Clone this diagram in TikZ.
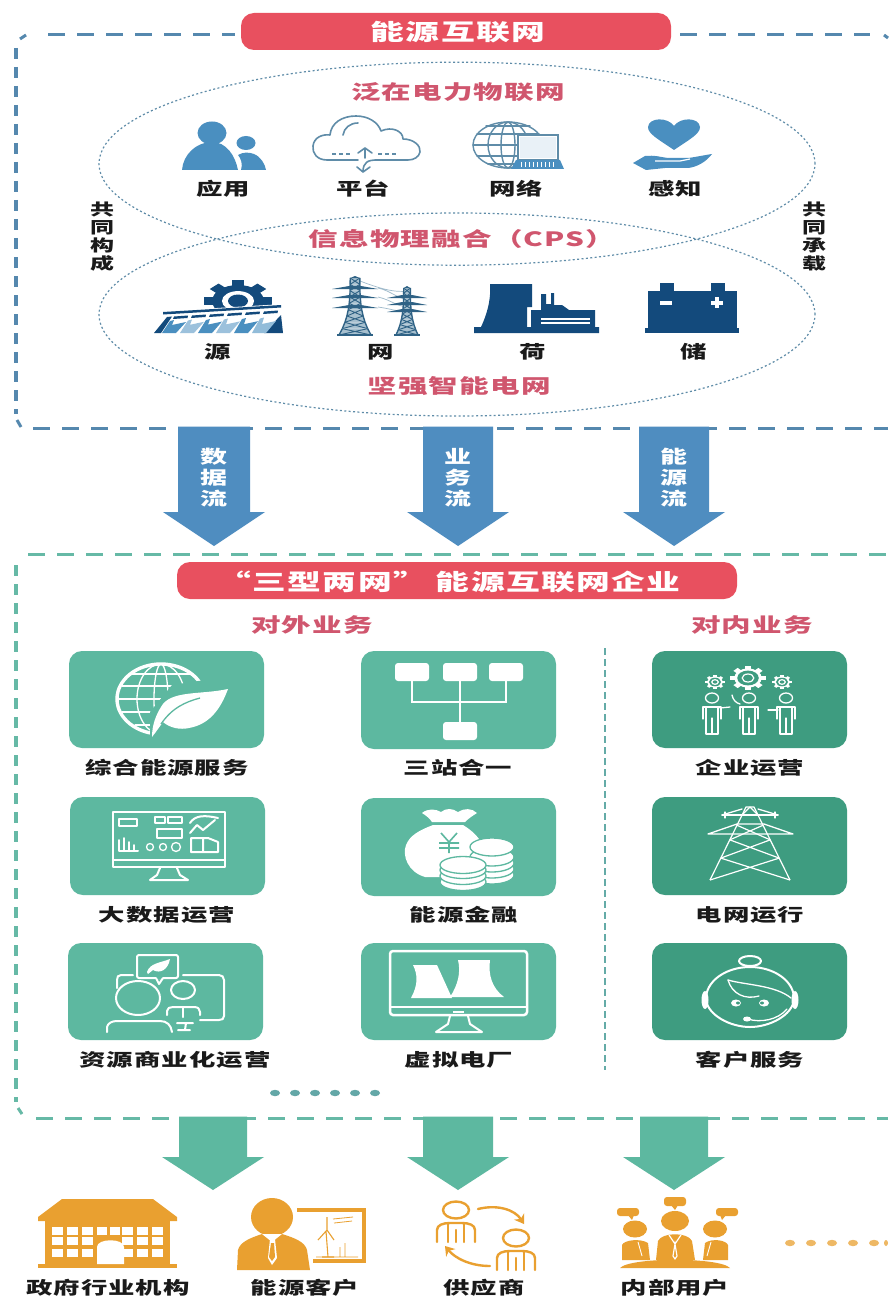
\documentclass[tikz,border=0pt]{standalone}
\usepackage{fontspec}
\usetikzlibrary{shapes.geometric,arrows.meta}
\newfontfamily\cjk[FakeStretch=1.5,LetterSpace=6]{Noto Sans CJK SC}
\definecolor{redpill}{HTML}{E8505F}
\definecolor{pinkt}{HTML}{D0566E}
\definecolor{frameb}{HTML}{5588AE}
\definecolor{frameg}{HTML}{66B9A6}
\definecolor{dotb}{HTML}{5F8CA8}
\definecolor{arrowb}{HTML}{4F8DC0}
\definecolor{iconb}{HTML}{4A8FC0}
\definecolor{navy}{HTML}{134A7C}
\definecolor{towerc}{HTML}{2F6285}
\definecolor{cardl}{HTML}{5DB8A0}
\definecolor{cardd}{HTML}{3E9C80}
\definecolor{orangei}{HTML}{E9A030}
\definecolor{txt}{HTML}{1A1A1A}
\tikzset{
 pill/.style={fill=redpill,rounded corners=13pt},
 titletxt/.style={text=white,inner sep=0,font=\cjk\bfseries\fontsize{22.5}{24}\selectfont},
 subtxt/.style={text=pinkt,inner sep=0,font=\cjk\bfseries\fontsize{19.7}{21}\selectfont},
 blacktxt/.style={text=txt,inner sep=0,font=\cjk\bfseries\fontsize{17.6}{19}\selectfont},
 vtxt/.style={text=txt,inner sep=0,align=center,font=\cjk\bfseries\fontsize{16}{18}\selectfont},
 arrtxt/.style={text=white,inner sep=0,align=center,font=\cjk\bfseries\fontsize{18}{21}\selectfont},
 dotell/.style={draw=dotb,line width=1.2pt,dash pattern=on 2pt off 2.4pt,ellipse,minimum width=716pt,minimum height=203pt,inner sep=0},
 hdashb/.style={draw=frameb,line width=3pt,dash pattern=on 17pt off 12pt},
 vdashb/.style={draw=frameb,line width=4pt,dash pattern=on 11pt off 8pt},
 hdashg/.style={draw=frameg,line width=3pt,dash pattern=on 17pt off 12pt},
 vdashg/.style={draw=frameg,line width=4pt,dash pattern=on 11pt off 8pt},
 card/.style={rounded corners=13pt},
 wl/.style={draw=white,line width=2pt,line cap=round,line join=round},
 wt/.style={draw=white,line width=1.3pt,line cap=round,line join=round},
 ol/.style={draw=orangei,line width=2.4pt,line cap=round,line join=round},
 bl/.style={draw=dotb,line width=1.4pt,line cap=round,line join=round},
}
\newcommand\bigarrow[7]{\fill[#7] (#1-#2,#4) -- (#1+#2,#4) -- (#1+#2,#5) -- (#1+#3,#5) -- (#1,#6) -- (#1-#3,#5) -- (#1-#2,#5) -- cycle;}
% solid gear with hole
\newcommand\geara[6]{\begin{scope}[shift={(#1,#2)},xscale=#4]
 \foreach \a in {0,45,...,315}{\fill[#5,rotate=\a] (-.24*#3,0) rectangle (.24*#3,-1.3*#3);}
 \fill[#5] (0,0) circle (#3);
 \fill[#6] (0,0) circle (.62*#3);
\end{scope}}
% outline gear: ring with teeth and an inner ring
\newcommand\gearb[5]{\begin{scope}[shift={(#1,#2)},xscale=#4]
 \foreach \a in {0,45,...,315}{\fill[white,rotate=\a] (-.22*#3,0) rectangle (.22*#3,-1.28*#3);}
 \fill[white] (0,0) circle (#3);
 \fill[#5] (0,0) circle (.78*#3);
 \draw[white,line width=1.2pt] (0,0) circle (.42*#3);
\end{scope}}
% straight lattice tower
\newcommand\tower[6]{\begin{scope}[line join=round]
 \draw[#5,line width=#6] (#1-#4,#3) -- (#1-.1*#4,#2) -- (#1+.1*#4,#2) -- (#1+#4,#3);
 \foreach \f/\g in {.25/.45,.45/.7,.7/1}{
  \pgfmathsetmacro\ya{#2+\f*(#3-#2)}\pgfmathsetmacro\yb{#2+\g*(#3-#2)}
  \pgfmathsetmacro\wa{.1*#4+.9*#4*\f}\pgfmathsetmacro\wb{.1*#4+.9*#4*\g}
  \draw[#5,line width=#6] (#1-\wa,\ya) -- (#1+\wb,\yb) (#1+\wa,\ya) -- (#1-\wb,\yb);
 }
 \end{scope}}
% flared lattice pylon
\newcommand\ptower[4]{\begin{scope}[line join=round]
 \foreach \i in {0,...,8}{
  \pgfmathsetmacro\f{\i/9}\pgfmathsetmacro\g{(\i+1)/9}
  \pgfmathsetmacro\ya{#2+\f*(#3-#2)}\pgfmathsetmacro\yb{#2+\g*(#3-#2)}
  \pgfmathsetmacro\wa{#4*(.3+.7*\f*\f*\f)}\pgfmathsetmacro\wb{#4*(.3+.7*\g*\g*\g)}
  \fill[dotb!55] (#1-\wa,\ya) -- (#1+\wa,\ya) -- (#1+\wb,\yb) -- (#1-\wb,\yb) -- cycle;
  \draw[towerc,line width=.9pt] (#1-\wa,\ya) -- (#1+\wb,\yb) (#1+\wa,\ya) -- (#1-\wb,\yb);
  \draw[towerc,line width=1.4pt] (#1-\wa,\ya) -- (#1-\wb,\yb) (#1+\wa,\ya) -- (#1+\wb,\yb);
 }
 \draw[towerc,line width=1.8pt] (#1-#4-2,#3) -- (#1+#4+2,#3);
 \fill[towerc] (#1-.3*#4,#2) -- (#1,#2-2) -- (#1+.3*#4,#2) -- cycle;
 \end{scope}}
\newcommand\parm[4]{\fill[towerc] (#1-#3,#2) -- (#1+#3,#2) -- (#1+#4,#2-3) -- (#1-#4,#2-3) -- cycle;}
% outline person on card
\newcommand\peep[2]{\draw[wt] (#1,#2) ellipse (6.5 and 5);
 \draw[wt] (#1-9,#2+21) -- (#1-9,#2+9) -- (#1+9,#2+9) -- (#1+9,#2+21);
 \draw[wt] (#1-6,#2+36) -- (#1-6,#2+9) (#1+6,#2+36) -- (#1+6,#2+9) (#1-6,#2+36) -- (#1+6,#2+36) (#1,#2+36) -- (#1,#2+20);}
% orange line person
\newcommand\oper[2]{\draw[ol] (#1,#2) ellipse (13 and 8.5);
 \draw[ol] (#1-19,#2+32) -- (#1-19,#2+20) .. controls (#1-19,#2+15) and (#1-13,#2+13) .. (#1-6,#2+13) -- (#1+6,#2+13) .. controls (#1+13,#2+13) and (#1+19,#2+15) .. (#1+19,#2+20) -- (#1+19,#2+32);
 \draw[ol] (#1-8,#2+13) -- (#1-8,#2+32) (#1+8,#2+13) -- (#1+8,#2+32) (#1,#2+20) -- (#1,#2+32);}
\begin{document}
\begin{tikzpicture}[x=1pt,y=-1pt]
\useasboundingbox (0,0) rectangle (888,1297);
\fill[white] (0,0) rectangle (888,1297);

% ===== top frame
\draw[hdashb] (48,35) -- (235,35);
\draw[hdashb] (680,35) -- (870,35);
\draw[draw=frameb,line width=3pt] (884,35) -- (888,38);
\draw[draw=frameb,line width=3pt] (20,39) -- (26,35);
\draw[vdashb] (16,48) -- (16,414);
\draw[draw=frameb,line width=3pt] (17,420) -- (21,427);
\draw[hdashb] (33,428) -- (888,428);
\fill[pill] (241,13) rectangle (671,50);
\node[titletxt] (ttop) at (458,32) {能源互联网};

% ellipses
\node[dotell] (elltop) at (457,163.7) {};
\node[dotell] (ellbot) at (457,314.5) {};
\node[subtxt] (wiot) at (458,92) {泛在电力物联网};
\node[subtxt] (cps) at (462,239) {信息物理融合（CPS）};
\node[subtxt] (grid) at (459,386) {坚强智能电网};
\node[vtxt] (gc1) at (102,237) {共\\同\\构\\成};
\node[vtxt] (gc2) at (814,237) {共\\同\\承\\载};

% --- 应用 icon
\fill[iconb] (212,133) ellipse (14.5 and 11.5);
\fill[iconb] (182,170) .. controls (183,155) and (196,142) .. (212,142) .. controls (226,142) and (235,155) .. (238,170) -- cycle;
\fill[iconb] (246,143) ellipse (9.5 and 7);
\fill[iconb] (241,170) .. controls (243,165) and (241,158) .. (238,155) .. controls (243,152) and (249,152) .. (254,154) .. controls (261,157) and (265,164) .. (266,170) -- cycle;
% --- 平台 icon
\draw[draw=dotb,line width=1.6pt,line join=round,line cap=round] (358,160) -- (327,160) .. controls (317,160) and (312,153) .. (313,146) .. controls (314,137) and (323,134) .. (330,135) .. controls (331,123) and (342,116) .. (356,116) .. controls (368,116) and (378,122) .. (381,131) .. controls (392,126) and (403,131) .. (403,139) .. controls (414,139) and (421,146) .. (420,152) .. controls (419,157) and (414,160) .. (408,160) -- (375,160);
\draw[draw=dotb,line width=1.6pt,line cap=round] (343,135) .. controls (344,128) and (350,123) .. (358,123);
\draw[draw=dotb,line width=1.6pt,line cap=round,line join=round] (358,153) -- (365,148) -- (372,153) (365,148) -- (365,158) (377,160) .. controls (368,160) and (363,162) .. (363,172) (357,167) -- (363,172) -- (370,167);
\draw[draw=dotb,line width=2pt,dash pattern=on 4pt off 3pt] (332,154) -- (352,154) (378,154) -- (398,154);
% --- 网络 icon
\draw[bl] (508,145) ellipse (35 and 23);
\draw[bl] (508,145) ellipse (20 and 23);
\draw[bl] (508,145) ellipse (7 and 23);
\draw[bl] (477,134) -- (539,134) (473,145) -- (520,145) (477,156) -- (518,156) (486,126) -- (530,126) (488,164) -- (514,164);
\draw[fill=white,draw=dotb,line width=1.6pt] (518,135) rectangle (558,160);
\fill[iconb!12] (520,137) rectangle (556,158);
\fill[iconb] (516,160) -- (560,160) -- (564,169) -- (511,169) -- cycle;
\foreach \x in {521,525,...,553}{\draw[white,line width=.9pt] (\x,162) -- (\x,167);}
% --- 感知 icon
\fill[iconb] (674,150) .. controls (658,139) and (648,134) .. (648,127) .. controls (649,117) and (668,117) .. (674,126) .. controls (680,117) and (699,117) .. (700,127) .. controls (700,134) and (690,139) .. (674,150) -- cycle;
\fill[iconb] (633,163) -- (645,156) .. controls (655,155) and (660,157) .. (668,158) -- (688,158) .. controls (696,157) and (705,155) .. (712,154) .. controls (706,162) and (697,167) .. (688,168) -- (665,168) -- (646,170) -- cycle;
\draw[white,line width=1.2pt] (655,161) -- (680,161) -- (690,159);
\node[blacktxt] (l11) at (223,189) {应用};
\node[blacktxt] (l12) at (363,189) {平台};
\node[blacktxt] (l13) at (516,189) {网络};
\node[blacktxt] (l14) at (675,189) {感知};

% --- 源 icon
\geara{238}{301}{16}{1.62}{navy}{white}
\fill[navy] (238,301) ellipse (10 and 6.5);
\fill[white] (150,312) -- (284,304) -- (284,336) -- (150,336) -- cycle;
\fill[navy] (163,312) -- (281,305) -- (281,307.5) -- (163,314.5) -- cycle;
\fill[navy] (154,333) -- (167,317) -- (172,316.5) -- (161,333) -- cycle;
\fill[navy] (281,315) -- (283,333) -- (264,333) -- cycle;
\foreach \i/\c in {0/iconb,1/iconb!55,2/iconb,3/iconb!55,4/iconb,5/iconb!60}{
 \fill[navy] ({174+\i*18},{316.5-\i}) -- ({188+\i*18},{315.5-\i}) -- ({187.5+\i*18},{318-\i}) -- ({173+\i*18},{319-\i}) -- cycle;
 \fill[\c] ({170+\i*18},{321-\i*.5}) -- ({174+\i*18},{320-\i*.5}) -- ({172+\i*18},{325-\i*.2}) -- ({186+\i*18},{322-\i*.2}) -- ({176+\i*18},333) -- ({162+\i*18},333) -- cycle;
}
% --- 网 icon
\draw[dotb!60,line width=.7pt] (360,281) .. controls (378,288) and (395,293) .. (407,291) (378,288) .. controls (392,291) and (400,301) .. (410,299) (378,297) .. controls (392,300) and (400,309) .. (410,306) (378,307) .. controls (392,309) and (398,312) .. (408,311);
\ptower{355}{278}{335}{16}
\ptower{407}{288}{335}{11}
\parm{355}{289}{23}{6}
\parm{355}{298}{23}{6}
\parm{355}{308}{23}{6}
\parm{407}{298}{20}{5}
\parm{407}{305}{20}{5}
\parm{407}{312}{20}{5}
% --- 荷 icon
\fill[navy] (474,333) -- (474,327) -- (481,327) .. controls (489,310) and (491,295) .. (490,284) -- (532,284) -- (532,307) -- (527,307) -- (527,327) -- (599,327) -- (599,333) -- cycle;
\fill[navy] (531,327) -- (531,310) -- (541,310) -- (541,294) -- (546,294) -- (546,304) -- (551,304) -- (551,293) -- (554,293) -- (554,305) -- (562,305) -- (569,310) -- (595,310) -- (595,327) -- cycle;
\draw[white,line width=1.4pt] (541,319) -- (590,319) (541,323) -- (590,323);
% --- 储 icon
\fill[navy] (660,283) rectangle (674,291);
\fill[navy] (711,283) rectangle (725,291);
\fill[navy] (648,291) rectangle (737,328);
\fill[navy] (645,328) rectangle (739,333);
\fill[white] (660,301) rectangle (672,304.5);
\fill[white] (711,301) rectangle (723,304.5);
\fill[white] (715,297) rectangle (719,308);
\node[blacktxt] (l21) at (218,352) {源};
\node[blacktxt] (l22) at (381,352) {网};
\node[blacktxt] (l23) at (533,352) {荷};
\node[blacktxt] (l24) at (694,352) {储};

% ===== blue arrows
\bigarrow{214}{36}{51}{426.5}{512}{546}{arrowb}
\bigarrow{458}{35}{51}{426.5}{512}{546}{arrowb}
\bigarrow{674}{35}{51}{426.5}{512}{546}{arrowb}
\node[arrtxt] (f1) at (214,478) {数\\据\\流};
\node[arrtxt] (f2) at (458,478) {业\\务\\流};
\node[arrtxt] (f3) at (674,478) {能\\源\\流};

% ===== lower frame
\draw[hdashg] (28,554) -- (888,554);
\draw[vdashg] (16,565) -- (16,1102);
\draw[draw=frameg,line width=3pt] (18,1108) -- (22,1114);
\draw[hdashg] (36,1118) -- (888,1118);
\fill[pill] (177,562) rectangle (737,599);
\node[titletxt] (t2) at (449,582) {“三型两网” 能源互联网企业};
\node[subtxt] (s1) at (312,625) {对外业务};
\node[subtxt] (s2) at (752,625) {对内业务};
\draw[draw=frameg!70!dotb,line width=1.2pt,dash pattern=on 7pt off 4pt] (605,648) -- (605,1070);

% cards
\fill[card,cardl] (69,651) rectangle (264,748);
\fill[card,cardl] (361,651) rectangle (556,749);
\fill[card,cardd] (652,651) rectangle (847,748);
\fill[card,cardl] (70,797) rectangle (265,895);
\fill[card,cardl] (361,798) rectangle (556,896);
\fill[card,cardd] (652,797) rectangle (847,895);
\fill[card,cardl] (68,943) rectangle (263,1040);
\fill[card,cardl] (361,943) rectangle (556,1040);
\fill[card,cardd] (652,943) rectangle (847,1040);

% 综合能源服务
\draw[white,line width=3.4pt] (161,699) ellipse (44 and 35);
\draw[wt] (161,699) ellipse (24 and 35);
\draw[wt] (161,699) ellipse (7 and 35);
\draw[wt] (122,686) -- (200,686) (118,699) -- (204,699) (122,712) -- (200,712) (132,674) -- (190,674) (135,725) -- (185,725);
\fill[cardl] (150,737) -- (150,712) -- (172,685) -- (205,680) -- (240,682) -- (215,738) -- cycle;
\fill[white] (152,737) .. controls (152,725) and (156,715) .. (161,707) .. controls (170,690) and (200,695) .. (228,689) .. controls (222,705) and (212,724) .. (189,728) .. controls (180,730) and (170,728) .. (163,722) .. controls (160,726) and (156,732) .. (152,737) -- cycle;
\draw[cardl,line width=1.3pt] (161,724) .. controls (172,708) and (185,702) .. (200,698);
% 三站合一
\foreach \x in {395,443,489}{\fill[white,rounded corners=3pt] (\x,663) rectangle (\x+34,681);}
\fill[white,rounded corners=3pt] (443,722) rectangle (477,740);
\draw[white,line width=1.3pt] (412,681) -- (412,702) -- (506,702) -- (506,681) (460,681) -- (460,722);
% 企业运营
\gearb{715}{682}{5.5}{1.4}{cardd}
\gearb{748}{678}{9.5}{1.45}{cardd}
\gearb{782}{682}{5.5}{1.4}{cardd}
\peep{712}{698}
\peep{749}{698}
\peep{786}{698}
\draw[wt] (720,708) -- (730,707);
\draw[wt] (740,704) .. controls (736,703) and (733,700) .. (732,695);
\draw[wt] (778,710) -- (768,710);
% 大数据运营
\draw[wl] (113,812) rectangle (225,867);
\draw[wl] (113,860) -- (225,860);
\draw[wl] (160,868) -- (157,875) -- (150,880) -- (188,880) -- (180,875) -- (177,868);
\draw[wl] (119,819) rectangle (137,826);
\draw[wl] (119,840) -- (119,851) -- (138,851) (124,851) -- (124,838) (129,851) -- (129,842) (134,851) -- (134,845);
\draw[wl] (155,817) rectangle (165,823) (168,817) rectangle (182,823) (157,829) rectangle (182,838);
\draw[wt] (150,847) circle (3.5) (163,847) circle (3.5) (176,847) circle (4.5);
\draw[wl] (190,823) .. controls (195,815) and (205,815) .. (218,818) (190,833) -- (197,825) -- (203,830) -- (215,820) (191,838) rectangle (203,852) (203,852) -- (218,852) -- (218,842) -- (208,838) -- (203,838);
% 能源金融
\fill[white] (422,813) .. controls (428,808) and (436,809) .. (441,812) .. controls (446,808) and (452,808) .. (458,812) .. controls (464,808) and (472,808) .. (477,813) .. controls (472,816) and (468,819) .. (465,822) -- (432,822) .. controls (430,819) and (427,816) .. (422,813) -- cycle;
\fill[white] (433,825) -- (463,825) .. controls (475,832) and (487,845) .. (487,860) -- (470,877) -- (425,877) .. controls (408,872) and (402,856) .. (406,845) .. controls (410,835) and (420,830) .. (433,825) -- cycle;
\draw[cardl,line width=1.6pt] (441,833) -- (449,842) -- (457,833) (449,842) -- (449,853) (439,843) -- (459,843) (439,848) -- (459,848);
\foreach \y in {875,869,863,857,847}{\draw[fill=white,draw=cardl,line width=1.3pt] (492,\y) ellipse (22 and 9);}
\foreach \y in {882,876,870,865}{\draw[fill=white,draw=cardl,line width=1.3pt] (463,\y) ellipse (23 and 8.5);}
% 电网运行
\tower{750}{807}{880}{40}{white}{1.2pt}
\draw[wt] (708,834) -- (793,834) -- (764,824) -- (737,824) -- cycle;
\draw[wt] (722,815) -- (778,815) (725,812) -- (725,818) (775,812) -- (775,818);
\draw[wt] (742,815) -- (750,807) -- (758,815);
\draw[wt] (722,815) -- (742,809) (778,815) -- (758,809);
% 资源商业化运营
\draw[wl,rounded corners=2pt] (137,955) rectangle (178,978);
\draw[cardl,line width=2.5pt] (156,978) -- (163,978);
\draw[wl] (156,978) -- (159,984) -- (163,978);
\fill[white] (147,972) .. controls (150,963) and (160,963) .. (170,959) .. controls (168,970) and (160,974) .. (153,970) -- (148,974) -- cycle;
\draw[wl] (133,975) -- (121,975) .. controls (118,975) and (117,977) .. (117,980) -- (117,988);
\draw[wl] (183,975) -- (219,975) .. controls (222,975) and (224,977) .. (224,980) -- (224,1016) .. controls (224,1019) and (222,1020) .. (219,1020) -- (200,1020);
\draw[wl] (138,998) ellipse (22 and 17);
\draw[wl] (183,990) ellipse (12 and 9);
\draw[wl] (107,1032) -- (107,1027) .. controls (108,1023) and (112,1021) .. (117,1021) -- (160,1021) .. controls (167,1021) and (171,1025) .. (172,1032);
\draw[wl] (167,1015) -- (167,1011) .. controls (167,1008) and (170,1007) .. (173,1007) -- (194,1007) .. controls (198,1007) and (200,1009) .. (200,1012) -- (200,1015);
\draw[wl] (183,1007) -- (183,1017);
\draw[wl] (177,1023) -- (193,1023) (186,1023) -- (185,1030) (178,1030) -- (190,1030);
% 虚拟电厂
\draw[draw=white,line width=2.5pt,rounded corners=3pt] (390,951) rectangle (527,1015);
\draw[white,line width=2.2pt] (390,1007) -- (527,1007);
\draw[wl] (450,1016) -- (448,1024) -- (436,1032) -- (482,1032) -- (470,1024) -- (468,1016);
\fill[white] (453,1011) rectangle (464,1013);
\fill[white] (413,965) -- (437,965) -- (452,998) -- (411,998) .. controls (418,985) and (418,975) .. (413,965) -- cycle;
\fill[white] (458,960) -- (490,960) .. controls (488,975) and (492,988) .. (504,997) -- (450,997) .. controls (458,985) and (461,972) .. (458,960) -- cycle;
% 客户服务
\draw[wl] (750,967) .. controls (775,967) and (795,982) .. (794,1000) .. controls (792,1015) and (770,1027) .. (750,1027) .. controls (730,1027) and (708,1015) .. (706,1000) .. controls (705,982) and (725,967) .. (750,967) -- cycle;
\draw[wl] (750,961) ellipse (11 and 5);
\fill[white] (705,1000) ellipse (3.5 and 9);
\fill[white] (795,1000) ellipse (3.5 and 9);
\draw[wt] (728,980) .. controls (732,994) and (745,1000) .. (759,996);
\draw[wt] (728,980) .. controls (745,985) and (775,985) .. (791,998);
\fill[white] (736,1003) ellipse (5 and 3.5);
\fill[white] (764,1003) ellipse (5 and 3.5);
\fill[cardd] (738,1003) ellipse (2 and 1.5);
\fill[cardd] (762,1003) ellipse (2 and 1.5);
\draw[wt] (748,1019) .. controls (760,1023) and (778,1020) .. (787,1009);
\fill[white] (747,1019) ellipse (4 and 2.5);

\node[blacktxt] (c11) at (167,768) {综合能源服务};
\node[blacktxt] (c12) at (458,768) {三站合一};
\node[blacktxt] (c13) at (750,768) {企业运营};
\node[blacktxt] (c21) at (167,915) {大数据运营};
\node[blacktxt] (c22) at (464,915) {能源金融};
\node[blacktxt] (c23) at (750,915) {电网运行};
\node[blacktxt] (c31) at (175,1060) {资源商业化运营};
\node[blacktxt] (c32) at (459,1060) {虚拟电厂};
\node[blacktxt] (c33) at (750,1060) {客户服务};
\foreach \x in {275,295,315,335,355,375}{\fill[frameg!60!dotb] (\x,1093) ellipse (5 and 3.2);}

% ===== green arrows
\bigarrow{213}{34}{51}{1116.5}{1157}{1190}{cardl}
\bigarrow{458}{35}{51}{1116.5}{1157}{1190}{cardl}
\bigarrow{674}{34}{51}{1116.5}{1157}{1190}{cardl}

% ===== bottom icons
% government
\fill[orangei] (62,1199) -- (153,1199) -- (177,1217) -- (177,1221) -- (38,1221) -- (38,1217) -- cycle;
\fill[orangei] (45,1221) rectangle (170,1264);
\fill[orangei] (38,1264) rectangle (177,1268);
\foreach \x in {52,67,82,122,137,152}{\foreach \y in {1227,1237,1249}{\fill[white] (\x,\y) rectangle (\x+11,\y+7.5);}}
\foreach \x in {97,110}{\fill[white] (\x,1227) rectangle (\x+10,1234.5);}
\fill[white] (97,1264) -- (97,1247) .. controls (97,1238) and (124,1238) .. (124,1247) -- (124,1264) -- cycle;
% energy client
\draw[draw=orangei,line width=3.5pt] (297,1210) -- (364,1210) -- (364,1261) -- (313,1261);
\draw[orangei,line width=1.1pt] (326,1231) -- (328,1257) (322,1257) -- (334,1257) (327,1230) -- (318,1240) (327,1230) -- (334,1240) (327,1230) -- (327,1217);
\draw[orangei,line width=.8pt] (333,1219) -- (353,1217) (334,1223) -- (352,1221) (340,1257) -- (340,1247) (345,1257) -- (345,1243) (316,1257) -- (358,1257);
\fill[orangei] (272,1217) ellipse (21 and 19);
\fill[orangei] (237,1270) -- (238,1250) .. controls (240,1242) and (250,1238) .. (262,1234) -- (282,1234) .. controls (295,1238) and (305,1242) .. (307,1250) -- (310,1270) -- cycle;
\fill[white] (262,1234) -- (272,1242) -- (282,1234) -- (278,1234) -- (266,1234) -- cycle;
\fill[white] (270,1239) -- (275,1239) -- (277,1258) -- (272,1265) -- (268,1258) -- cycle;
\fill[orangei] (271,1243) -- (274,1243) -- (275,1257) -- (272,1261) -- (269,1257) -- cycle;
% supplier
\oper{456}{1210}
\oper{516}{1238}
\draw[ol,-{Stealth[length=9pt,width=12pt]}] (478,1209) .. controls (498,1204) and (515,1210) .. (524,1224);
\draw[ol,-{Stealth[length=9pt,width=12pt]}] (490,1266) .. controls (470,1266) and (455,1258) .. (445,1246);
% internal users
\fill[orangei,rounded corners=3pt] (664,1197) rectangle (686,1206);
\fill[orangei] (671,1205) -- (678,1205) -- (675,1210) -- cycle;
\fill[orangei,rounded corners=3pt] (617,1208) rectangle (639,1216);
\fill[orangei] (628,1215) -- (634,1215) -- (632,1220) -- cycle;
\fill[orangei,rounded corners=3pt] (716,1208) rectangle (738,1216);
\fill[orangei] (720,1215) -- (726,1215) -- (722,1220) -- cycle;
\fill[orangei] (675,1221) ellipse (14 and 10);
\fill[orangei] (635,1229) ellipse (12 and 8.5);
\fill[orangei] (715,1229) ellipse (12 and 8.5);
\fill[orangei] (622,1260) -- (622,1245) .. controls (624,1240) and (640,1238) .. (648,1243) -- (650,1260) -- cycle;
\fill[orangei] (703,1260) -- (705,1243) .. controls (712,1238) and (726,1240) .. (728,1245) -- (728,1260) -- cycle;
\fill[orangei] (656,1260) -- (658,1241) .. controls (662,1232) and (688,1232) .. (692,1241) -- (695,1260) -- cycle;
\draw[white,line width=1.2pt] (669,1235) -- (675,1244) -- (681,1235) (675,1244) -- (673,1256) -- (675,1259) -- (677,1256) -- cycle;
\draw[white,line width=.9pt] (638,1242) -- (642,1256) (711,1242) -- (707,1256);
\fill[orangei] (620,1268) .. controls (630,1257) and (720,1257) .. (730,1268) -- cycle;

\node[blacktxt] (b1) at (108,1288) {政府行业机构};
\node[blacktxt] (b2) at (305,1288) {能源客户};
\node[blacktxt] (b3) at (484,1288) {供应商};
\node[blacktxt] (b4) at (675,1288) {内部用户};
\foreach \x in {790,811,832,853,874}{\fill[orangei!75] (\x,1243) ellipse (5 and 3.2);}
\fill[orangei!75] (886,1243) ellipse (2 and 3);
\end{tikzpicture}
\end{document}
